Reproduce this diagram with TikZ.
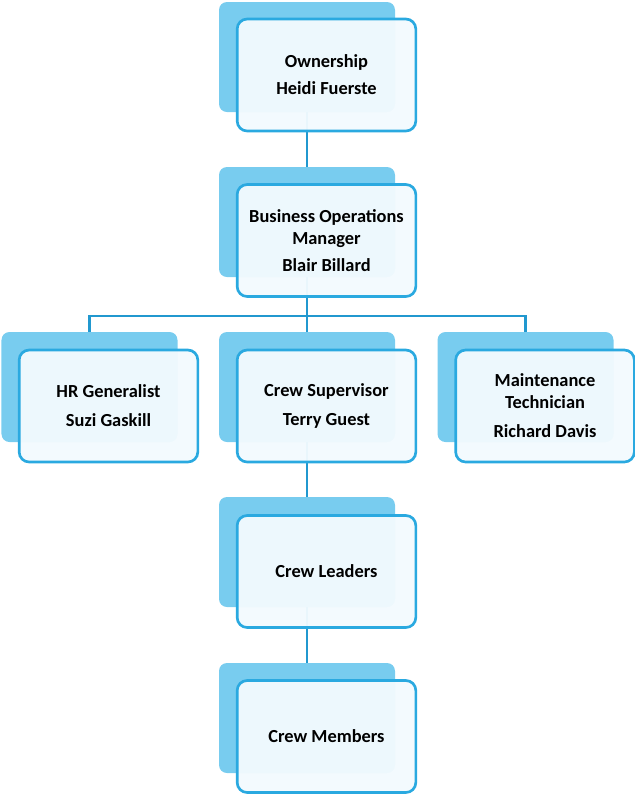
\documentclass[tikz,border=0pt]{standalone}
\usepackage{fontspec}
\setmainfont{Carlito}
\definecolor{backblue}{HTML}{78CCEF}
\definecolor{edgeblue}{HTML}{2AA9E0}
\definecolor{lineblue}{HTML}{2198CF}
\definecolor{frontfill}{HTML}{F2FAFE}
\begin{document}
\begin{tikzpicture}[x=0.75pt,y=-0.75pt,
  backbox/.style={draw=none,fill=backblue,rounded corners=6pt,minimum width=132pt,minimum height=82.5pt,inner sep=0pt},
  frontbox/.style={draw=edgeblue,line width=2pt,fill=frontfill,fill opacity=0.96,text opacity=1,rounded corners=7.5pt,minimum width=134pt,minimum height=84pt,inner sep=0pt,align=center,font=\fontsize{13.8pt}{16.5pt}\selectfont\bfseries},
  conn/.style={draw=lineblue,line width=1.6pt}]
\useasboundingbox (0,0) rectangle (635,794);
% back boxes
\node[backbox] (ownb) at (307,57) {};
\node[backbox] (bomb) at (307,222) {};
\node[backbox] (hrb) at (89.5,387) {};
\node[backbox] (csb) at (307,387) {};
\node[backbox] (mtb) at (525.5,387) {};
\node[backbox] (clb) at (307,552) {};
\node[backbox] (cmb) at (307,718) {};
% connectors
\coordinate (bus) at (0,316);
\draw[conn] (ownb.south) -- (bomb.north);
\draw[conn] (bomb.south) -- (csb.north);
\draw[conn] (hrb.north) -- (hrb.north |- bus) -- (mtb.north |- bus) -- (mtb.north);
\draw[conn] (csb.south) -- (clb.north);
\draw[conn] (clb.south) -- (cmb.north);
% front boxes
\node[frontbox] (own) at (326.5,75) {Ownership\\[3.75pt]Heidi Fuerste};
\node[frontbox] (bom) at (326.5,240.5) {Business Operations\\Manager\\[3.75pt]Blair Billard};
\node[frontbox] (hr) at (108.5,406) {HR Generalist\\[5.25pt]Suzi Gaskill};
\node[frontbox] (cs) at (326.5,406) {Crew Supervisor\\[5.25pt]Terry Guest};
\node[frontbox] (mt) at (545,406) {Maintenance\\Technician\\[5.25pt]Richard Davis};
\node[frontbox] (cl) at (326.5,571.5) {Crew Leaders};
\node[frontbox] (cm) at (326.5,736.5) {Crew Members};
\end{tikzpicture}
\end{document}
